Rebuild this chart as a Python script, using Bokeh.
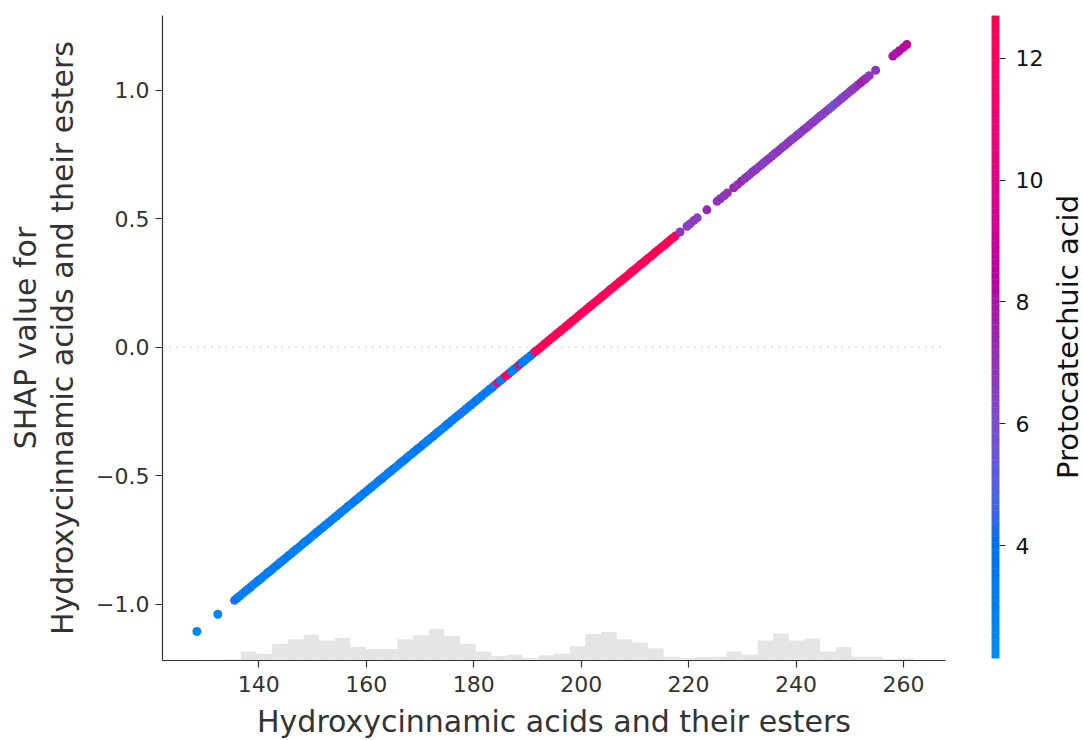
import numpy as np
from bokeh.plotting import figure
from bokeh.layouts import row
from bokeh.models import (Range1d, Span, FixedTicker, CustomJSTickFormatter,
                          LinearColorMapper, ColumnDataSource)
from bokeh.transform import transform
from bokeh.embed import file_html
from bokeh.resources import INLINE

# ---------------- data ----------------
X_LABEL = "Hydroxycinnamic acids and their esters"
Y_LABEL = "SHAP value for\nHydroxycinnamic acids and their esters"
CB_LABEL = "Protocatechuic acid"

x_ticks = [140, 160, 180, 200, 220, 240, 260]
y_ticks = [-1.0, -0.5, 0.0, 0.5, 1.0]
cb_ticks = [4, 6, 8, 10, 12]
X_LIM = (122.1, 267.8)
Y_LIM = (-1.219, 1.29)
CB_LOW, CB_HIGH = 2.15, 12.7

# sparse blue start
seg_a_x = [128.5, 132.4]
seg_a_y = [-1.106, -1.039]
seg_a_c = [2.6, 2.7]

# dense blue
seg_b_x = [135.5, 136.0, 136.5, 137.0, 137.5, 138.0, 138.5, 139.0, 139.5, 140.0,
           140.5, 141.0, 141.5, 142.0, 142.5, 143.0, 143.5, 144.0, 144.5, 145.0,
           145.5, 146.0, 146.5, 147.0, 147.5, 148.0, 148.5, 149.0, 149.5, 150.0,
           150.5, 151.0, 151.5, 152.0, 152.5, 153.0, 153.5, 154.0, 154.5, 155.0,
           155.5, 156.0, 156.5, 157.0, 157.5, 158.0, 158.5, 159.0, 159.5, 160.0,
           160.5, 161.0, 161.5, 162.0, 162.5, 163.0, 163.5, 164.0, 164.5, 165.0,
           165.5, 166.0, 166.5, 167.0, 167.5, 168.0, 168.5, 169.0, 169.5, 170.0,
           170.5, 171.0, 171.5, 172.0, 172.5, 173.0, 173.5, 174.0, 174.5, 175.0,
           175.5, 176.0, 176.5, 177.0, 177.5, 178.0, 178.5, 179.0, 179.5, 180.0,
           180.5, 181.0, 181.5, 182.0, 182.5, 183.0, 183.5]
seg_b_y = [-0.985, -0.976, -0.968, -0.959, -0.950, -0.942, -0.933, -0.924, -0.916, -0.907,
           -0.899, -0.890, -0.881, -0.873, -0.864, -0.855, -0.847, -0.838, -0.829, -0.821,
           -0.812, -0.804, -0.795, -0.786, -0.778, -0.769, -0.760, -0.752, -0.743, -0.734,
           -0.726, -0.717, -0.708, -0.700, -0.691, -0.683, -0.674, -0.665, -0.657, -0.648,
           -0.639, -0.631, -0.622, -0.613, -0.605, -0.596, -0.588, -0.579, -0.570, -0.562,
           -0.553, -0.544, -0.536, -0.527, -0.518, -0.510, -0.501, -0.492, -0.484, -0.475,
           -0.467, -0.458, -0.449, -0.441, -0.432, -0.423, -0.415, -0.406, -0.397, -0.389,
           -0.380, -0.372, -0.363, -0.354, -0.346, -0.337, -0.328, -0.320, -0.311, -0.302,
           -0.294, -0.285, -0.276, -0.268, -0.259, -0.251, -0.242, -0.233, -0.225, -0.216,
           -0.207, -0.199, -0.190, -0.181, -0.173, -0.164, -0.156]
seg_b_c = [4.4, 3.6, 3.1, 2.9, 3.3, 3.0, 3.5, 2.8, 3.2, 3.7,
           3.0, 2.9, 3.4, 3.1, 2.7, 3.3, 3.6, 3.0, 2.9, 3.2,
           3.8, 3.1, 2.8, 3.3, 3.0, 3.5, 2.9, 3.2, 3.4, 3.0,
           2.8, 3.6, 3.1, 3.3, 2.9, 3.0, 3.7, 3.2, 2.8, 3.4,
           3.1, 3.0, 3.5, 2.9, 3.3, 3.8, 3.0, 3.2, 2.9, 3.6,
           3.1, 3.4, 2.8, 3.0, 3.3, 3.9, 3.1, 2.9, 3.2, 3.5,
           3.0, 2.8, 3.4, 3.2, 3.7, 3.0, 3.1, 2.9, 3.5, 3.3,
           4.1, 3.0, 3.2, 2.9, 3.6, 3.1, 3.4, 3.0, 2.8, 3.3,
           3.9, 3.2, 3.0, 3.5, 3.1, 4.6, 3.3, 3.0, 3.6, 3.2,
           4.0, 3.1, 3.4, 3.0, 3.7, 3.2, 3.5]

# mixed blue / red around zero
seg_c_x = [184.0, 184.5, 185.0, 185.5, 186.0, 186.5, 187.0, 187.5,
           188.0, 188.5, 189.0, 189.5, 190.0, 190.5, 191.0, 191.5]
seg_c_y = [-0.147, -0.138, -0.130, -0.121, -0.112, -0.104, -0.095, -0.086,
           -0.078, -0.069, -0.060, -0.052, -0.043, -0.035, -0.026, -0.017]
seg_c_c = [3.2, 12.2, 3.4, 3.1, 12.0, 11.6, 3.3, 3.0,
           3.5, 12.3, 3.2, 3.4, 3.1, 3.3, 3.6, 12.2]

# dense red
seg_d_x = [192.0, 192.5, 193.0, 193.5, 194.0, 194.5, 195.0, 195.5, 196.0, 196.5,
           197.0, 197.5, 198.0, 198.5, 199.0, 199.5, 200.0, 200.5, 201.0, 201.5,
           202.0, 202.5, 203.0, 203.5, 204.0, 204.5, 205.0, 205.5, 206.0, 206.5,
           207.0, 207.5, 208.0, 208.5, 209.0, 209.5, 210.0, 210.5, 211.0, 211.5,
           212.0, 212.5, 213.0, 213.5, 214.0, 214.5, 215.0, 215.5, 216.0, 216.5,
           217.0, 217.5]
seg_d_y = [-0.009, 0.000, 0.009, 0.017, 0.026, 0.035, 0.043, 0.052, 0.060, 0.069,
           0.078, 0.086, 0.095, 0.104, 0.112, 0.121, 0.130, 0.138, 0.147, 0.156,
           0.164, 0.173, 0.181, 0.190, 0.199, 0.207, 0.216, 0.225, 0.233, 0.242,
           0.251, 0.259, 0.268, 0.276, 0.285, 0.294, 0.302, 0.311, 0.320, 0.328,
           0.337, 0.346, 0.354, 0.363, 0.372, 0.380, 0.389, 0.397, 0.406, 0.415,
           0.423, 0.432]
seg_d_c = [12.3, 12.5, 12.1, 12.4, 12.6, 12.2, 12.4, 12.3, 11.6, 12.5,
           12.2, 12.4, 12.6, 12.3, 12.1, 12.5, 12.4, 11.8, 12.3, 12.6,
           12.2, 12.4, 12.5, 12.1, 12.3, 12.6, 12.4, 11.4, 12.2, 12.5,
           12.3, 12.4, 12.6, 12.2, 12.1, 12.5, 12.3, 12.4, 11.7, 12.6,
           12.2, 12.4, 12.3, 12.5, 12.1, 12.6, 12.3, 12.4, 11.9, 12.2,
           12.5, 12.3]

# sparse purple
seg_e_x = [218.4, 219.7, 220.3, 221.0, 221.6, 223.4, 225.3, 225.9, 226.6, 227.2,
           228.4, 229.1, 229.8]
seg_e_y = [0.448, 0.470, 0.480, 0.493, 0.503, 0.534, 0.567, 0.577, 0.589, 0.600,
           0.620, 0.632, 0.645]
seg_e_c = [7.0, 6.6, 6.3, 6.8, 6.5, 7.3, 6.9, 7.1, 6.7, 7.0, 7.3, 6.8, 7.4]

# dense purple
seg_f_x = [230.5, 231.0, 231.5, 232.0, 232.5, 233.0, 233.5, 234.0, 234.5, 235.0,
           235.5, 236.0, 236.5, 237.0, 237.5, 238.0, 238.5, 239.0, 239.5, 240.0,
           240.5, 241.0, 241.5, 242.0, 242.5, 243.0, 243.5, 244.0, 244.5, 245.0,
           245.5, 246.0, 246.5, 247.0, 247.5, 248.0, 248.5, 249.0, 249.5, 250.0,
           250.5, 251.0, 251.5, 252.0, 252.5, 253.0, 253.6, 254.8]
seg_f_y = [0.657, 0.665, 0.674, 0.683, 0.691, 0.700, 0.708, 0.717, 0.726, 0.734,
           0.743, 0.752, 0.760, 0.769, 0.778, 0.786, 0.795, 0.804, 0.812, 0.821,
           0.829, 0.838, 0.847, 0.855, 0.864, 0.873, 0.881, 0.890, 0.899, 0.907,
           0.916, 0.924, 0.933, 0.942, 0.950, 0.959, 0.968, 0.976, 0.985, 0.994,
           1.002, 1.011, 1.020, 1.028, 1.037, 1.045, 1.056, 1.077]
seg_f_c = [6.6, 6.9, 6.5, 6.7, 7.0, 6.4, 6.8, 6.6, 6.2, 6.9,
           6.7, 6.5, 6.8, 6.6, 7.0, 6.4, 6.7, 6.9, 6.5, 6.6,
           6.8, 6.3, 6.7, 6.9, 6.5, 6.6, 6.8, 6.4, 6.7, 6.1,
           6.5, 6.6, 5.9, 5.7, 6.2, 6.4, 6.6, 6.3, 6.7, 6.5,
           6.8, 6.6, 6.9, 7.5, 7.7, 7.2, 7.0, 6.8]

# top end
seg_g_x = [258.0, 258.6, 259.2, 260.0, 260.6]
seg_g_y = [1.132, 1.142, 1.153, 1.166, 1.177]
seg_g_c = [8.0, 7.8, 8.1, 8.3, 8.7]

# background histogram (50 bins across the x-axis range)
hist_counts = [0, 0, 1, 1, 2, 14, 10, 26, 33, 40,
               31, 35, 21, 18, 18, 33, 39, 49, 38, 26,
               14, 7, 9, 4, 8, 11, 22, 41, 44, 33,
               28, 19, 6, 4, 5, 6, 14, 9, 31, 42,
               31, 34, 14, 21, 6, 6, 2, 3, 0, 0]
N_TOTAL = 1000

# ---------------- colormap (SHAP red_blue, LCh interpolation) ----------------
def lch2rgb(l, c, h):
    a = c * np.cos(h)
    b = c * np.sin(h)
    fy = (l + 16.0) / 116.0
    fx = fy + a / 500.0
    fz = fy - b / 200.0

    def finv(t):
        return np.where(t > 6 / 29, t ** 3, 3 * (6 / 29) ** 2 * (t - 4 / 29))

    X = 0.95047 * finv(fx)
    Y = 1.0 * finv(fy)
    Z = 1.08883 * finv(fz)
    M = np.array([[3.2406, -1.5372, -0.4986],
                  [-0.9689, 1.8758, 0.0415],
                  [0.0557, -0.2040, 1.0570]])
    rgb = M @ np.array([X, Y, Z])
    rgb = np.clip(rgb, 0, None)
    rgb = np.where(rgb > 0.0031308, 1.055 * np.power(rgb, 1 / 2.4) - 0.055, 12.92 * rgb)
    return np.clip(rgb, 0, 1)


blue_lch = [54.0, 70.0, 4.6588]
l_mid = 40.0
red_lch = [54.0, 90.0, 0.35470565 + 2 * np.pi]
nsteps = 100
l_vals = list(np.linspace(blue_lch[0], l_mid, nsteps // 2)) + list(np.linspace(l_mid, red_lch[0], nsteps // 2))
c_vals = np.linspace(blue_lch[1], red_lch[1], nsteps)
h_vals = np.linspace(blue_lch[2], red_lch[2], nsteps)
palette = []
for l, c, h in zip(l_vals, c_vals, h_vals):
    r, g, b = lch2rgb(l, c, h)
    palette.append("#%02x%02x%02x" % (int(round(r * 255)), int(round(g * 255)), int(round(b * 255))))

mapper = LinearColorMapper(palette=palette, low=CB_LOW, high=CB_HIGH)

FONT = "DejaVu Sans"
AX_COLOR = "#333333"

# ---------------- main figure ----------------
p = figure(frame_width=783, frame_height=645,
           x_range=Range1d(*X_LIM), y_range=Range1d(*Y_LIM),
           output_backend="svg", toolbar_location=None,
           min_border_left=162, min_border_right=46,
           min_border_top=15, min_border_bottom=80)
p.extra_y_ranges = {"hist": Range1d(0, N_TOTAL)}

edges = np.linspace(X_LIM[0], X_LIM[1], len(hist_counts) + 1)
hist_src = ColumnDataSource(dict(left=edges[:-1], right=edges[1:], top=hist_counts))
p.quad(left="left", right="right", bottom=0, top="top", source=hist_src,
       y_range_name="hist", fill_color="#000000", fill_alpha=0.1, line_color=None)

p.add_layout(Span(location=0, dimension="width", line_color="#999999",
                  line_width=1, line_dash="1 6"))

xs = seg_a_x + seg_b_x + seg_c_x + seg_d_x + seg_e_x + seg_f_x + seg_g_x
ys = seg_a_y + seg_b_y + seg_c_y + seg_d_y + seg_e_y + seg_f_y + seg_g_y
cs = seg_a_c + seg_b_c + seg_c_c + seg_d_c + seg_e_c + seg_f_c + seg_g_c
src = ColumnDataSource(dict(x=xs, y=ys, c=cs))
p.scatter("x", "y", source=src, size=9, fill_color=transform("c", mapper),
          line_color=None)

p.grid.visible = False
p.outline_line_color = None
p.xaxis.ticker = FixedTicker(ticks=x_ticks)
p.yaxis.ticker = FixedTicker(ticks=y_ticks)
p.yaxis.formatter = CustomJSTickFormatter(code="return tick.toFixed(1).replace('-', '\u2212');")
p.xaxis.axis_label = X_LABEL
p.yaxis.axis_label = Y_LABEL
for ax in (p.xaxis, p.yaxis):
    ax.axis_line_color = AX_COLOR
    ax.axis_line_width = 1.2
    ax.major_tick_line_color = AX_COLOR
    ax.major_tick_line_width = 1.2
    ax.minor_tick_line_color = None
    ax.major_tick_out = 7
    ax.major_tick_in = 0
    ax.major_label_text_font = FONT
    ax.major_label_text_font_size = "22px"
    ax.major_label_text_color = AX_COLOR
    ax.axis_label_text_font = FONT
    ax.axis_label_text_font_size = "30px"
    ax.axis_label_text_font_style = "normal"
    ax.axis_label_text_color = AX_COLOR
    ax.axis_label_text_line_height = 1.07
p.xaxis.major_label_standoff = 8
p.yaxis.major_label_standoff = 6
p.xaxis.axis_label_standoff = 9
p.yaxis.axis_label_standoff = 13

# ---------------- colorbar figure ----------------
cb = figure(frame_width=8, frame_height=643,
            x_range=Range1d(0, 1), y_range=Range1d(CB_LOW, CB_HIGH),
            output_backend="svg", toolbar_location=None,
            x_axis_location=None, y_axis_location="right",
            min_border_left=0, min_border_right=48,
            min_border_top=15, min_border_bottom=82)
cb_edges = np.linspace(CB_LOW, CB_HIGH, len(palette) + 1)
cb_src = ColumnDataSource(dict(bottom=cb_edges[:-1], top=cb_edges[1:], color=palette))
cb.quad(left=0, right=1, bottom="bottom", top="top", source=cb_src,
        fill_color="color", line_color="color", line_width=0.5)
cb.grid.visible = False
cb.outline_line_color = None
cb.yaxis.ticker = FixedTicker(ticks=cb_ticks)
cb.yaxis.axis_line_color = None
cb.yaxis.major_tick_line_color = "#222222"
cb.yaxis.major_tick_line_width = 1.2
cb.yaxis.minor_tick_line_color = None
cb.yaxis.major_tick_out = 6
cb.yaxis.major_tick_in = 0
cb.yaxis.major_label_standoff = 10
cb.yaxis.major_label_text_font = FONT
cb.yaxis.major_label_text_font_size = "22px"
cb.yaxis.major_label_text_color = "#111111"

# colorbar title, drawn as a left-axis label of a slim companion figure
lab = figure(frame_width=1, frame_height=643,
             x_range=Range1d(0, 1), y_range=Range1d(CB_LOW, CB_HIGH),
             output_backend="svg", toolbar_location=None,
             x_axis_location=None, y_axis_location="left",
             min_border_left=0, min_border_right=0,
             min_border_top=15, min_border_bottom=82)
lab.grid.visible = False
lab.outline_line_color = None
lab.yaxis.ticker = FixedTicker(ticks=[])
lab.yaxis.axis_line_color = None
lab.yaxis.major_tick_line_color = None
lab.yaxis.minor_tick_line_color = None
lab.yaxis.major_label_text_font_size = "0px"
lab.yaxis.major_tick_out = 0
lab.yaxis.major_label_standoff = 0
lab.yaxis.axis_label = CB_LABEL
lab.yaxis.axis_label_standoff = 0
lab.yaxis.axis_label_text_font = FONT
lab.yaxis.axis_label_text_font_size = "29px"
lab.yaxis.axis_label_text_font_style = "normal"
lab.yaxis.axis_label_text_color = "#111111"
lab.yaxis.axis_label_text_line_height = 1.0

layout = row(p, cb, lab)
open("out.html", "w").write(file_html(layout, INLINE))
